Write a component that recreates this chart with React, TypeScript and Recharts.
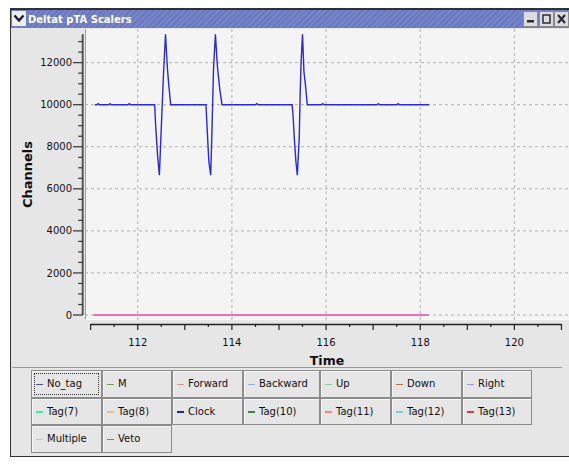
import { LineChart, Line, XAxis, YAxis, ReferenceLine, Label } from 'recharts';

const FONT = '"DejaVu Sans", Verdana, sans-serif';

// Clock scaler counts
const clockTime = [
  111.09, 111.13, 111.16, 111.19, 111.38, 111.41, 111.44, 111.79, 111.82, 111.85,
  112.36, 112.38, 112.42, 112.46, 112.5, 112.55, 112.59, 112.63, 112.66, 112.7,
  113.45, 113.47, 113.51, 113.55, 113.58, 113.61, 113.65, 113.69, 113.74, 113.79,
  114.5, 114.53, 114.56,
  115.28, 115.3, 115.33, 115.36, 115.39, 115.43, 115.45, 115.47, 115.5, 115.53, 115.57, 115.6,
  115.9, 115.93, 115.96, 117.08, 117.11, 117.14, 117.5, 117.53, 117.56, 118.19,
];
const clockCounts = [
  10000, 10000, 10050, 10000, 10000, 10050, 10000, 10000, 10050, 10000,
  10000, 9040, 7620, 6650, 8880, 11600, 13350, 11730, 10930, 10000,
  10000, 9040, 7320, 6650, 9040, 11730, 13350, 11890, 10780, 10000,
  10000, 10050, 10000,
  10000, 9450, 8250, 7300, 6650, 8410, 10470, 12050, 13350, 11580, 10780, 10000,
  10000, 10050, 10000, 10000, 10050, 10000, 10000, 10050, 10000, 10000,
];

// every other scaler sits flat on zero over the run
const flatTime = [111.07, 118.17];
const flatCounts = [0, 0];

const seriesNames = [
  'No_tag', 'M', 'Forward', 'Backward', 'Up', 'Down', 'Right',
  'Tag(7)', 'Tag(8)', 'Clock', 'Tag(10)', 'Tag(11)', 'Tag(12)', 'Tag(13)',
  'Multiple', 'Veto',
];
const seriesColors = [
  '#4a4aa8', '#7a9a5a', '#e09090', '#8fb0ec', '#7fd0a0', '#a87850', '#a098f0',
  '#40f0a0', '#f0b888', '#2020c8', '#3a8a3a', '#f08878', '#70d8d8', '#f03030',
  '#a8f020', '#f040a0',
];

const xTicks = [111, 111.5, 112, 112.5, 113, 113.5, 114, 114.5, 115, 115.5, 116, 116.5, 117, 117.5, 118, 118.5, 119, 119.5, 120, 120.5, 121];
const yTicks = [0, 500, 1000, 1500, 2000, 2500, 3000, 3500, 4000, 4500, 5000, 5500, 6000, 6500, 7000, 7500, 8000, 8500, 9000, 9500, 10000, 10500, 11000, 11500, 12000, 12500, 13000];
const xGrid = [112, 114, 116, 118, 120];
const yGrid = [0, 2000, 4000, 6000, 8000, 10000, 12000];

const clockData = clockTime.map((t, i) => ({ t, v: clockCounts[i] }));
const flatData = flatTime.map((t, i) => ({ t, v: flatCounts[i] }));

const colWidths = [71, 70, 71, 77, 71, 71, 70];

function XTick({ x, y, payload }: any) {
  const v = payload.value;
  const len = Number.isInteger(v) ? 10 : 7;
  return (
    <g>
      <line x1={x} x2={x} y1={y + 4} y2={y + 4 + len - 4} stroke="#222" strokeWidth={1.2} />
      {v % 2 === 0 && (
        <text x={x} y={y + 25.5} textAnchor="middle" fontSize={10} fontFamily={FONT} fill="#111">
          {v}
        </text>
      )}
    </g>
  );
}

function YTick({ x, y, payload }: any) {
  const v = payload.value;
  const major = v % 2000 === 0;
  return (
    <g>
      <line x1={x - (major ? 12 : 6.8)} x2={x - 2.3} y1={y} y2={y} stroke="#333" strokeWidth={1.2} />
      {major && (
        <text x={x - 13} y={y + 3.6} textAnchor="end" fontSize={10} fontFamily={FONT} fill="#111">
          {v}
        </text>
      )}
    </g>
  );
}

function TitleBar() {
  return (
    <div
      style={{
        position: 'absolute', left: 11, top: 9, width: 560, height: 19,
        background: 'repeating-linear-gradient(135deg, #6a78c0 0px, #6a78c0 2px, #7884c8 2px, #7884c8 4px)',
        borderTop: '1px solid #2a2a50',
        boxSizing: 'border-box',
      }}
    >
      <div style={{ position: 'absolute', left: 1, top: 1, width: 14, height: 15, background: '#eceef4' }}>
        <svg width={14} height={15}>
          <path d="M2.5 4.5 L7 9.5 L11.5 4.5" stroke="#1a1a30" strokeWidth={2.4} fill="none" />
        </svg>
      </div>
      <div
        style={{
          position: 'absolute', left: 17, top: 2, color: '#fff', fontFamily: FONT,
          fontWeight: 'bold', fontSize: 10, lineHeight: '15px', whiteSpace: 'nowrap',
        }}
      >
        Deltat pTA Scalers
      </div>
      {[0, 1, 2].map((k) => (
        <div
          key={k}
          style={{
            position: 'absolute', left: 512 + k * 15.5, top: 1, width: 15, height: 16,
            background: '#dcdcdc', border: '1px solid #8a8a8a', boxSizing: 'border-box',
          }}
        >
          <svg width={13} height={14}>
            {k === 0 && <rect x={3} y={8} width={7} height={2.5} fill="#2a2a40" />}
            {k === 1 && <rect x={3} y={3} width={7} height={8} fill="none" stroke="#2a2a40" strokeWidth={1.5} />}
            {k === 2 && <path d="M3 3 L10 11 M10 3 L3 11" stroke="#2a2a40" strokeWidth={2.2} />}
          </svg>
        </div>
      ))}
    </div>
  );
}

function LegendGrid() {
  const rows: number[][] = [];
  for (let i = 0; i < seriesNames.length; i += 7) {
    rows.push(seriesNames.slice(i, i + 7).map((_, j) => i + j));
  }
  return (
    <div style={{ position: 'absolute', left: 31, top: 370 }}>
      {rows.map((row, r) => (
        <div key={r} style={{ display: 'flex', height: 27.5 }}>
          {row.map((idx, c) => (
            <div
              key={idx}
              style={{
                position: 'relative', width: colWidths[c], height: 27.5, boxSizing: 'border-box',
                border: '1px solid #8c8c8c', background: '#e6e6e6',
                boxShadow: 'inset 1px 1px 0 #f6f6f6',
              }}
            >
              {idx === 0 && (
                <div
                  style={{
                    position: 'absolute', left: 2, top: 2, right: 2, bottom: 2,
                    border: '1px dotted #333',
                  }}
                />
              )}
              <div
                style={{
                  position: 'absolute', left: 4, top: 12.5, width: 7, height: 1.5,
                  background: seriesColors[idx],
                }}
              />
              <div
                style={{
                  position: 'absolute', left: 15, top: 6, fontFamily: FONT, fontSize: 10,
                  lineHeight: '14px', color: '#111', whiteSpace: 'nowrap',
                }}
              >
                {seriesNames[idx]}
              </div>
            </div>
          ))}
        </div>
      ))}
    </div>
  );
}

export default function App() {
  return (
    <div style={{ position: 'absolute', left: 0, top: 0, width: 569, height: 474, background: '#fff', overflow: 'hidden' }}>
      {/* window frame */}
      <div
        style={{
          position: 'absolute', left: 10, top: 8, width: 570, height: 449,
          background: '#e6e6e6', border: '1px solid #333', boxSizing: 'border-box',
        }}
      />
      <TitleBar />
      {/* plot background */}
      <div
        style={{
          position: 'absolute', left: 85, top: 29, width: 484, height: 291,
          background: '#f4f4f4', borderLeft: '1px solid #a0a0a0', borderBottom: '1px solid #fbfbfb',
          boxSizing: 'border-box',
        }}
      />
      <div style={{ position: 'absolute', left: 12, top: 367, width: 550, height: 1, background: '#9a9a9a' }} />

      <div style={{ position: 'absolute', left: 0, top: 0 }}>
        <LineChart width={569} height={474} margin={{ top: 29, right: 0, left: 10, bottom: 104 }}>
          <XAxis
            dataKey="t"
            type="number"
            domain={[110.88, 121.16]}
            allowDataOverflow
            ticks={xTicks}
            interval={0}
            tickSize={0}
            tickMargin={0}
            tickLine={false}
            axisLine={false}
            tick={<XTick />}
            height={50}
          >
            <Label
              content={({ viewBox }: any) => (
                <text
                  x={viewBox.x + viewBox.width / 2}
                  y={viewBox.y + 40.5}
                  textAnchor="middle"
                  dominantBaseline="central"
                  fontFamily={FONT}
                  fontWeight="bold"
                  fontSize={12.5}
                  fill="#111"
                >
                  Time
                </text>
              )}
            />
          </XAxis>
          <YAxis
            type="number"
            domain={[-238, 13600]}
            allowDataOverflow
            ticks={yTicks}
            interval={0}
            tickSize={0}
            tickMargin={0}
            tickLine={false}
            axisLine={false}
            tick={<YTick />}
            width={75}
          >
            <Label
              content={({ viewBox }: any) => {
                const cx = viewBox.x + 17;
                const cy = viewBox.y + viewBox.height / 2;
                return (
                  <text
                    x={cx}
                    y={cy}
                    transform={`rotate(-90 ${cx} ${cy})`}
                    textAnchor="middle"
                    dominantBaseline="central"
                    fontFamily={FONT}
                    fontWeight="bold"
                    fontSize={13}
                    fill="#111"
                  >
                    Channels
                  </text>
                );
              }}
            />
          </YAxis>

          {xGrid.map((g) => (
            <ReferenceLine key={'x' + g} x={g} stroke="#b0b0b0" strokeDasharray="3 3" />
          ))}
          {yGrid.map((g) => (
            <ReferenceLine key={'y' + g} y={g} stroke="#b0b0b0" strokeDasharray="3 3" />
          ))}

          {/* axis lines sit just outside the plot frame */}
          <ReferenceLine
            segment={[{ x: 111, y: -452 }, { x: 121, y: -452 }]}
            ifOverflow="visible"
            stroke="#222"
            strokeWidth={1.3}
          />
          <ReferenceLine
            segment={[{ x: 110.831, y: 0 }, { x: 110.831, y: 13350 }]}
            ifOverflow="visible"
            stroke="#555"
            strokeWidth={2}
          />

          {seriesNames.map((name, i) =>
            name === 'Clock' ? null : (
              <Line
                key={name}
                data={flatData}
                dataKey="v"
                name={name}
                stroke={name === 'Veto' ? '#f070b8' : seriesColors[i]}
                strokeWidth={name === 'Veto' ? 2 : 1}
                dot={false}
                isAnimationActive={false}
              />
            )
          )}
          <Line
            data={clockData}
            dataKey="v"
            name="Clock"
            stroke="#2a2ad2"
            strokeWidth={1.4}
            dot={false}
            isAnimationActive={false}
          />
        </LineChart>
      </div>
      <LegendGrid />
    </div>
  );
}
